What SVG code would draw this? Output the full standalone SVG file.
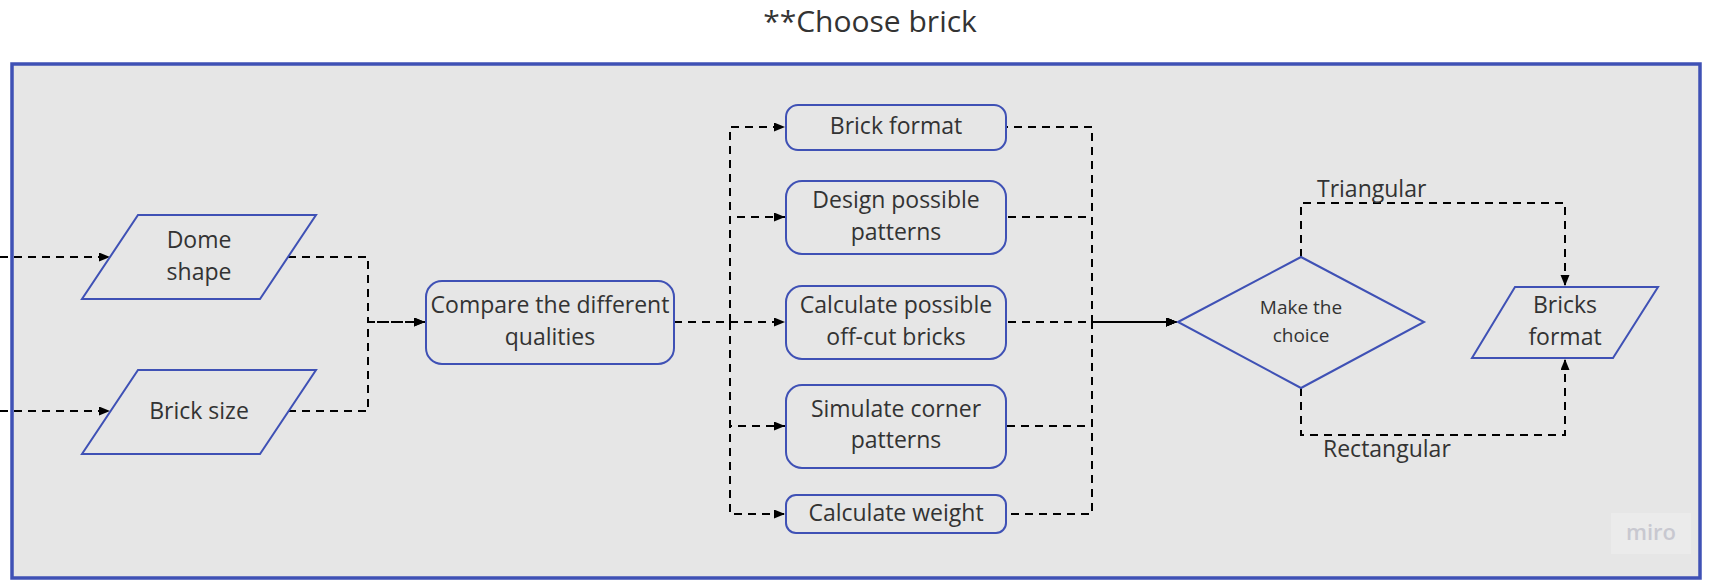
<svg xmlns="http://www.w3.org/2000/svg" width="1717" height="582" viewBox="0 0 1717 582">
<defs>
<marker id="ah" markerWidth="12" markerHeight="10" refX="11" refY="4.5" orient="auto" markerUnits="userSpaceOnUse">
<path d="M0,0 L11,4.5 L0,9 z" fill="#000"/>
</marker>
<marker id="ahs" markerWidth="12" markerHeight="10" refX="11" refY="4.5" orient="auto-start-reverse" markerUnits="userSpaceOnUse">
<path d="M0,0 L11,4.5 L0,9 z" fill="#000"/>
</marker>
<style>
.node{fill:#e6e6e6;stroke:#3f51b5;stroke-width:2}
.t{font-family:"Open Sans","Noto Sans","Liberation Sans",sans-serif;font-size:23px;fill:#333;text-anchor:middle}
.lbl{font-family:"Open Sans","Noto Sans","Liberation Sans",sans-serif;font-size:23px;fill:#333}
.c{fill:none;stroke:#000;stroke-width:2;stroke-dasharray:8 6}
</style>
</defs>
<rect width="1717" height="582" fill="#fff"/>
<text x="870" y="32" class="t" style="font-size:30px">**Choose brick</text>
<rect id="frame" x="12" y="64" width="1688" height="514" fill="#e6e6e6" stroke="#3f51b5" stroke-width="3.5"/>
<g id="connectors">
<path class="c" d="M0,257 H110" marker-end="url(#ah)"/>
<path class="c" d="M0,411 H110" marker-end="url(#ah)"/>
<path class="c" d="M288,257 H368 V322 H425" marker-end="url(#ah)"/>
<path class="c" d="M288,411 H368 V322 H425" marker-end="url(#ah)"/>
<path class="c" d="M674,322 H730 V127 H785" marker-end="url(#ah)"/>
<path class="c" d="M674,322 H730 V217 H785" marker-end="url(#ah)"/>
<path class="c" d="M674,322 H785" marker-end="url(#ah)"/>
<path class="c" d="M674,322 H730 V426 H785" marker-end="url(#ah)"/>
<path class="c" d="M674,322 H730 V514 H785" marker-end="url(#ah)"/>
<path class="c" d="M1177,322 H1092 V127 H1006" marker-start="url(#ahs)"/>
<path class="c" d="M1177,322 H1092 V217 H1006" marker-start="url(#ahs)"/>
<path class="c" d="M1177,322 H1006" marker-start="url(#ahs)" stroke-dashoffset="7"/>
<path class="c" d="M1177,322 H1092 V426 H1006" marker-start="url(#ahs)"/>
<path class="c" d="M1177,322 H1092 V514 H1006" marker-start="url(#ahs)"/>
<path class="c" d="M1301,257 V203 H1565 V286" marker-end="url(#ah)"/>
<path class="c" d="M1301,388 V435 H1565 V359" marker-end="url(#ah)"/>
</g>
<g id="dome">
<polygon class="node" points="138,215 316,215 260,299 82,299"/>
<text class="t" x="199" y="248">Dome</text>
<text class="t" x="199" y="280">shape</text>
</g>
<g id="bricksize">
<polygon class="node" points="138,370 316,370 260,454 82,454"/>
<text class="t" x="199" y="419">Brick size</text>
</g>
<g id="compare">
<rect class="node" x="426" y="281" width="248" height="83" rx="16"/>
<text class="t" x="550" y="313">Compare the different</text>
<text class="t" x="550" y="345">qualities</text>
</g>
<g id="brickformat">
<rect class="node" x="786" y="105" width="220" height="45" rx="12"/>
<text class="t" x="896" y="134">Brick format</text>
</g>
<g id="design">
<rect class="node" x="786" y="181" width="220" height="73" rx="16"/>
<text class="t" x="896" y="208">Design possible</text>
<text class="t" x="896" y="240">patterns</text>
</g>
<g id="offcut">
<rect class="node" x="786" y="286" width="220" height="73" rx="16"/>
<text class="t" x="896" y="313">Calculate possible</text>
<text class="t" x="896" y="345">off-cut bricks</text>
</g>
<g id="corner">
<rect class="node" x="786" y="385" width="220" height="83" rx="16"/>
<text class="t" x="896" y="417">Simulate corner</text>
<text class="t" x="896" y="448">patterns</text>
</g>
<g id="weight">
<rect class="node" x="786" y="495" width="220" height="38" rx="10"/>
<text class="t" x="896" y="521">Calculate weight</text>
</g>
<g id="choice">
<polygon class="node" points="1178,322 1301,257 1424,322 1301,388"/>
<text class="t" x="1301" y="314" style="font-size:19px">Make the</text>
<text class="t" x="1301" y="342" style="font-size:19px">choice</text>
</g>
<g id="bricksformat">
<polygon class="node" points="1515,287 1658,287 1613,358 1472,358"/>
<text class="t" x="1565" y="313">Bricks</text>
<text class="t" x="1565" y="345">format</text>
</g>
<g id="labels">
<text class="lbl" x="1317" y="197">Triangular</text>
<text class="lbl" x="1323" y="457">Rectangular</text>
</g>
<g id="logo">
<rect x="1611" y="513" width="80" height="41" fill="#ebebeb"/>
<text x="1651" y="540" text-anchor="middle" font-family="'Open Sans','Liberation Sans',sans-serif" font-size="22" font-weight="600" fill="#c8c8d0">miro</text>
</g>
</svg>
